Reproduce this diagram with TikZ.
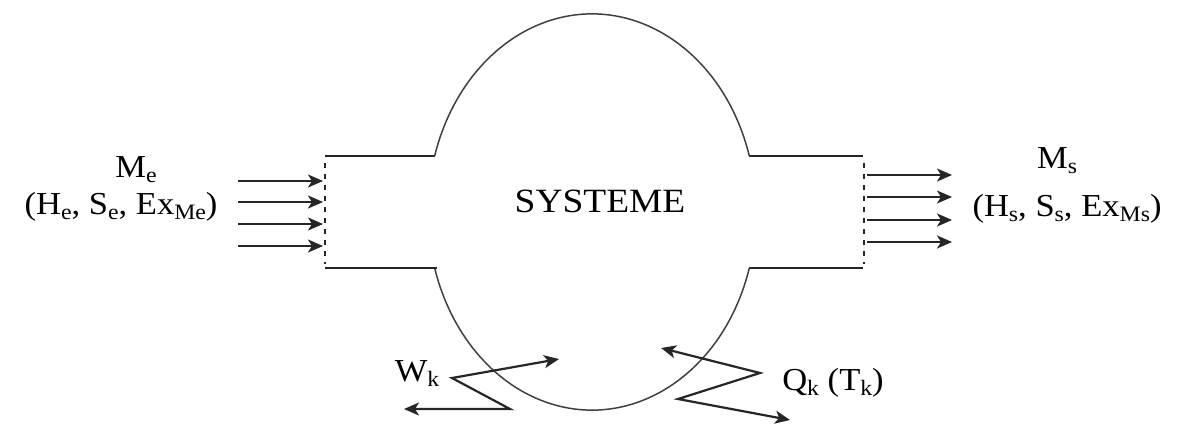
\documentclass[tikz,border=0pt]{standalone}
\usepackage{fontspec}
\setmainfont{Liberation Serif}
\usetikzlibrary{arrows.meta}
\newcommand\sbs[1]{\raisebox{-0.17em}{\fontsize{22}{24}\selectfont #1}}
\begin{document}
\begin{tikzpicture}[x=1pt,y=-1pt,
  lbl/.style={font=\fontsize{32}{36}\selectfont, inner sep=0pt, anchor=base, xscale=1.08, text=black},
  pipe/.style={line width=2.2pt, draw=black!85},
  flow/.style={line width=2.3pt, draw=black!85, -{Stealth[length=15pt,width=13pt,inset=4pt]}},
  zig/.style={line width=2.2pt, draw=black!85, {Stealth[length=15pt,width=13pt,inset=4pt]}-{Stealth[length=15pt,width=13pt,inset=4pt]}},
  port/.style={line width=2pt, draw=black!85, dash pattern=on 5pt off 6pt},
  wall/.style={line width=1.5pt, draw=black!75}]
\useasboundingbox (0,0) rectangle (1182,429);

% system wall (ellipse, open where the pipes join)
\coordinate (tr) at (749.3,156);
\coordinate (br) at (749.3,268);
\draw[wall] (tr) arc[start angle=16.4, end angle=163.6, x radius=164pt, y radius=198pt];
\draw[wall] (br) arc[start angle=-16.4, end angle=-163.6, x radius=164pt, y radius=198pt];

% inlet pipe
\coordinate (il1) at (325,156); \coordinate (il2) at (435,156);
\coordinate (il3) at (325,268); \coordinate (il4) at (437,268);
\draw[pipe] (il1) -- (il2);
\draw[pipe] (il3) -- (il4);
\coordinate (ip1) at (325,163); \coordinate (ip2) at (325,264);
\draw[port] (ip1) -- (ip2);

% outlet pipe
\coordinate (ol1) at (749,156); \coordinate (ol2) at (863,156);
\coordinate (ol3) at (749,268); \coordinate (ol4) at (863,268);
\draw[pipe] (ol1) -- (ol2);
\draw[pipe] (ol3) -- (ol4);
\coordinate (op1) at (864,163); \coordinate (op2) at (864,264);
\draw[port] (op1) -- (op2);

% inlet flows
\foreach \i/\y in {1/181,2/202,3/224,4/246}{
  \coordinate (ia\i) at (238,\y); \coordinate (ib\i) at (323,\y);
  \draw[flow] (ia\i) -- (ib\i);
}
% outlet flows
\foreach \i/\y in {1/175,2/197,3/220,4/242}{
  \coordinate (oa\i) at (867,\y); \coordinate (ob\i) at (952,\y);
  \draw[flow] (oa\i) -- (ob\i);
}

% work and heat
\coordinate (w1) at (404,409); \coordinate (w2) at (510,409);
\coordinate (w3) at (452,378); \coordinate (w4) at (559,359);
\draw[zig] (w1) -- (w2) -- (w3) -- (w4);
\coordinate (q1) at (661,348); \coordinate (q2) at (760,373);
\coordinate (q3) at (678,399); \coordinate (q4) at (790,420);
\draw[zig] (q1) -- (q2) -- (q3) -- (q4);

% labels
\node[lbl] (me) at (136,177) {M\sbs{e}};
\node[lbl] (mep) at (121,214) {(H\sbs{e}, S\sbs{e}, Ex\sbs{Me})};
\node[lbl] (ms) at (1057,168) {M\sbs{s}};
\node[lbl] (msp) at (1067,216) {(H\sbs{s}, S\sbs{s}, Ex\sbs{Ms})};
\node[lbl, font=\fontsize{34}{38}\selectfont, xscale=1.02] (sys) at (600,212) {SYSTEME};
\node[lbl] (wk) at (417,381) {W\sbs{k}};
\node[lbl] (qk) at (833,390) {Q\sbs{k} (T\sbs{k})};
\end{tikzpicture}
\end{document}
